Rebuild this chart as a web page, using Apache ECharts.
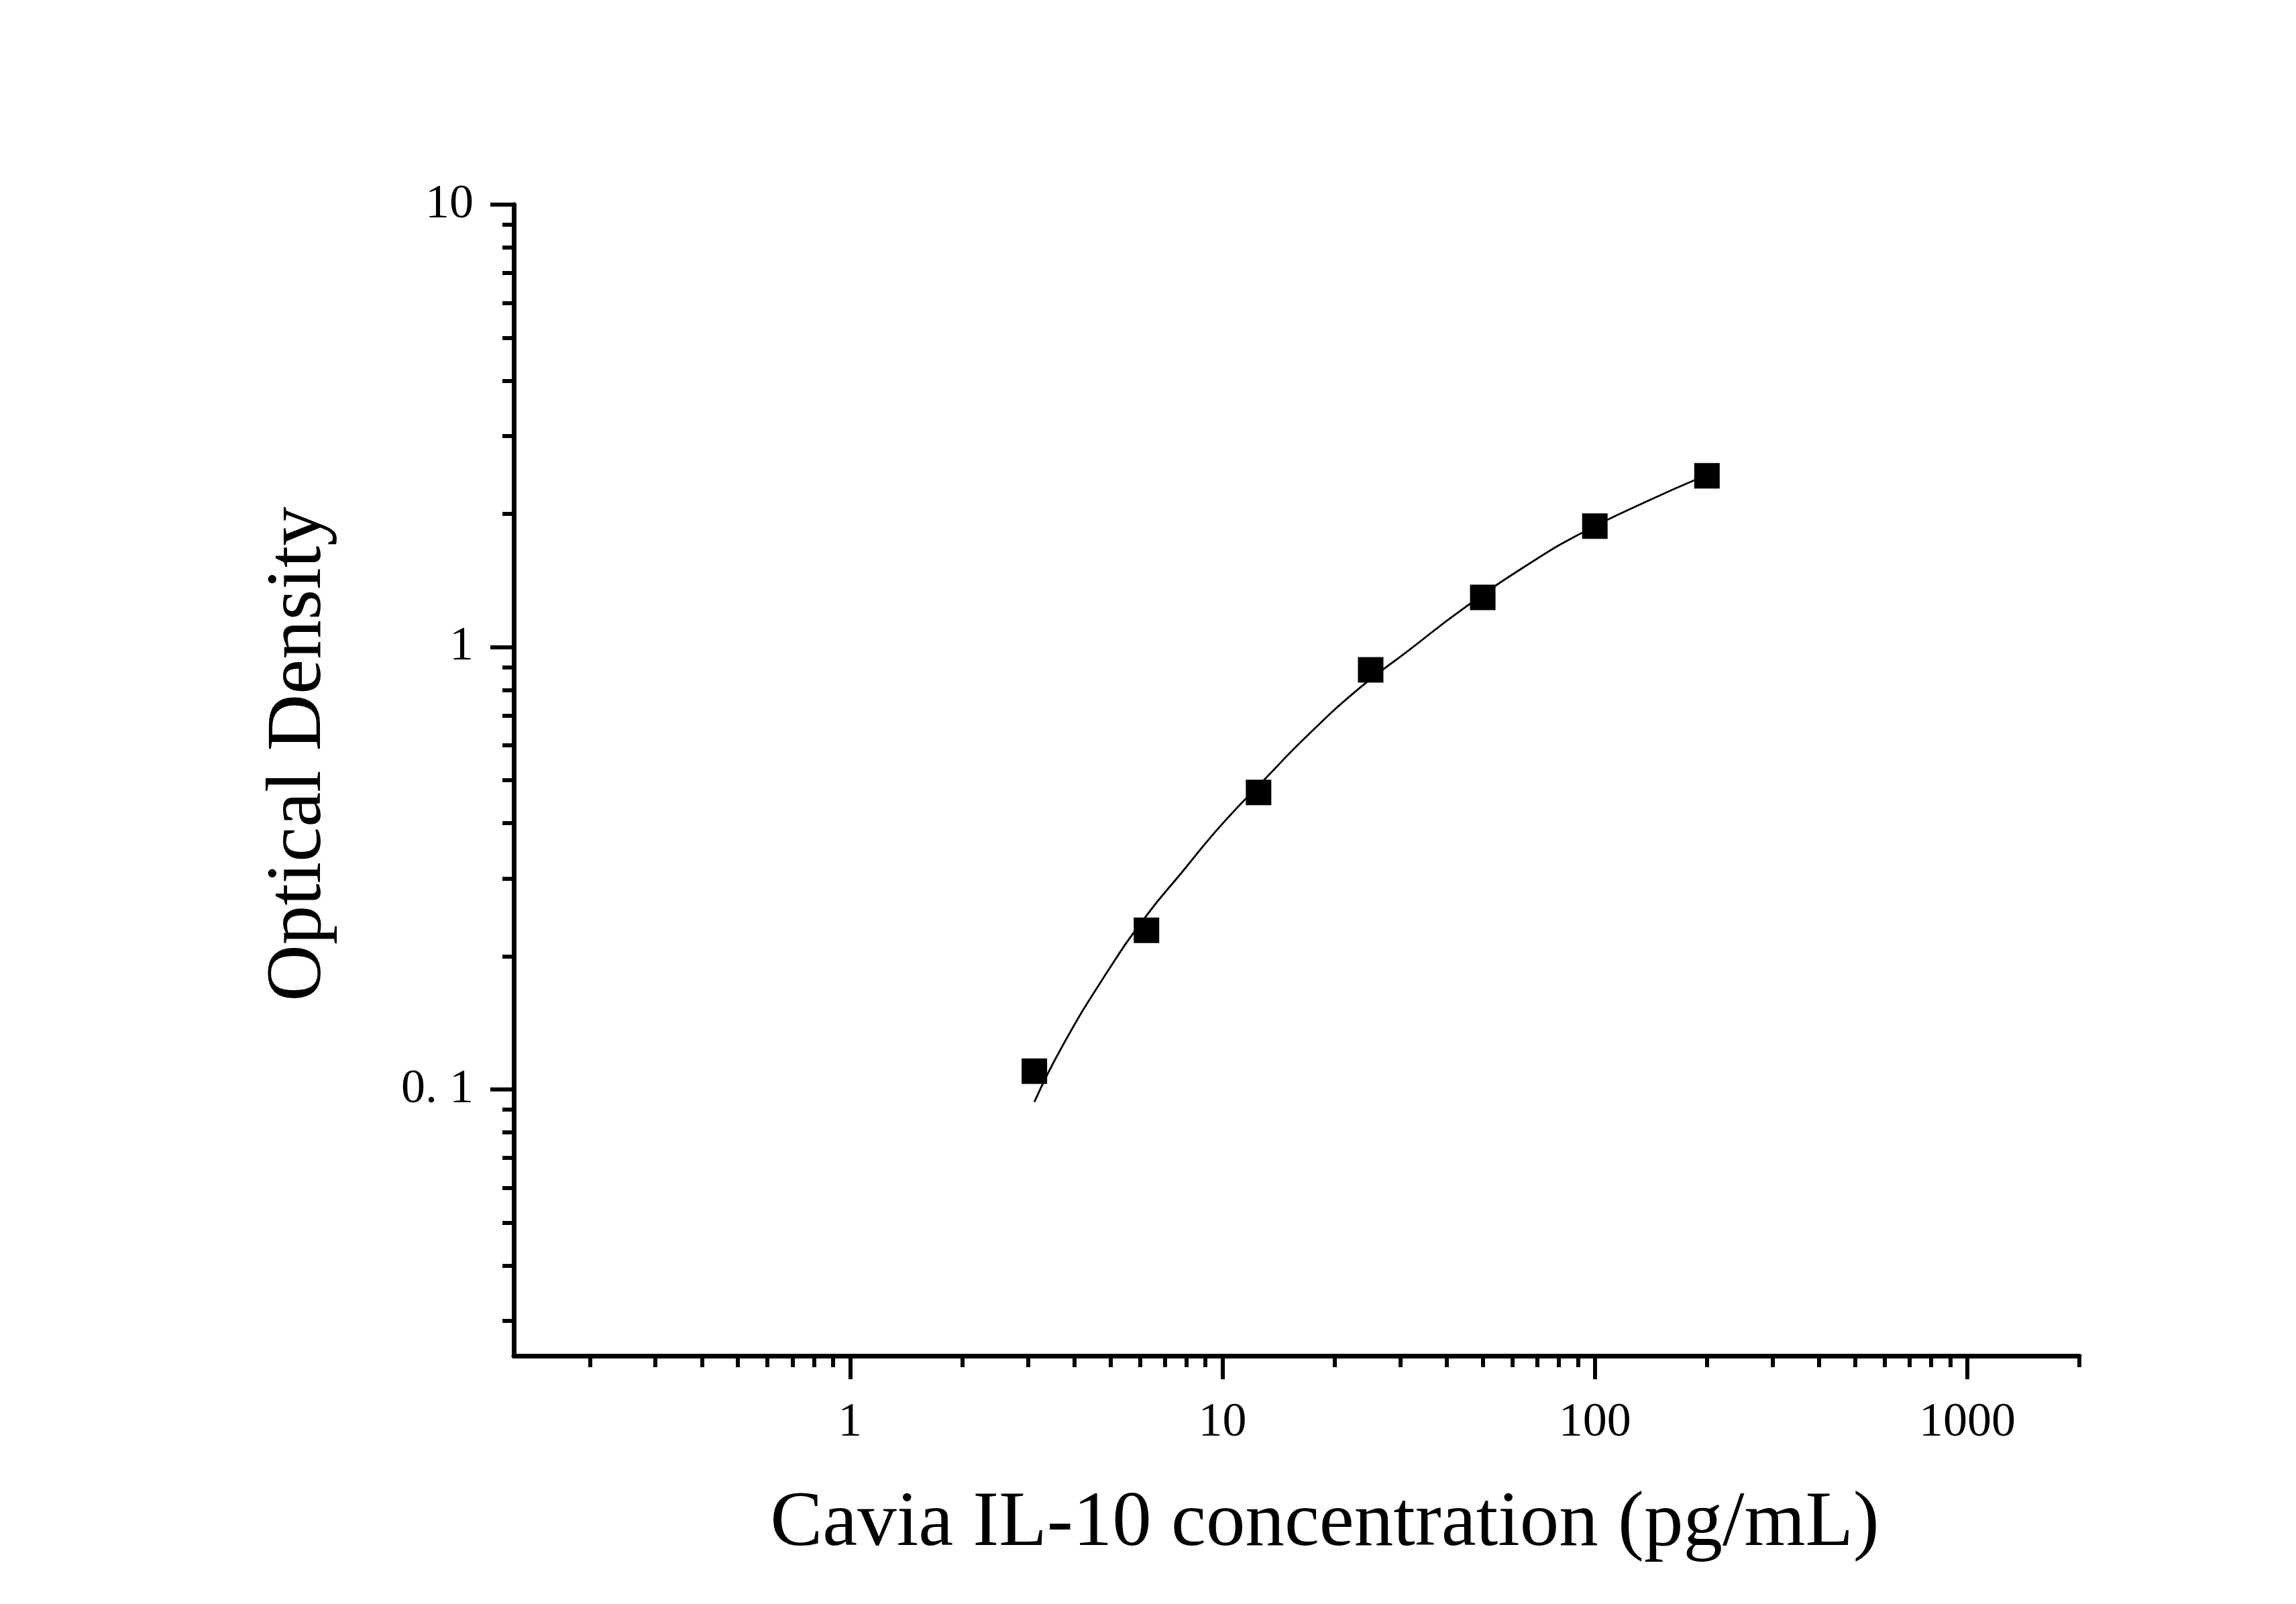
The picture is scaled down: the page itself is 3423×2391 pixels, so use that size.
<!DOCTYPE html>
<html>
<head>
<meta charset="utf-8">
<title>Cavia IL-10 standard curve</title>
<script src="https://cdn.jsdelivr.net/npm/echarts@6/dist/echarts.min.js"></script>
<style>
  html, body { margin: 0; padding: 0; background: #fff; }
  #chart { width: 3423px; height: 2391px; }
</style>
</head>
<body>
<div id="chart"></div>
<script>
// standards: concentration (pg/mL) and measured OD
var concentration = [3.125, 6.25, 12.5, 25, 50, 100, 200];
var opticalDensity = [0.110, 0.229, 0.469, 0.888, 1.295, 1.876, 2.437];

// fitted curve
var curveX = [3.125, 3.73, 4.92, 6.23, 7.77, 9.96, 12.95, 16.85, 23.31, 31.39, 44.36, 68.08, 92.81, 132.2, 200];
var curveY = [0.0937, 0.1260, 0.1851, 0.2463, 0.3091, 0.3972, 0.5012, 0.6290, 0.807, 0.978, 1.2216, 1.5605, 1.8156, 2.100, 2.45];

// axis ticks
var xMajor = [1, 10, 100, 1000];
var xTickLabels = ['1', '10', '100', '1000'];
var xMinor = [0.2, 0.3, 0.4, 0.5, 0.6, 0.7, 0.8, 0.9, 2, 3, 4, 5, 6, 7, 8, 9,
  20, 30, 40, 50, 60, 70, 80, 90, 200, 300, 400, 500, 600, 700, 800, 900, 2000];
var yMajor = [0.1, 1, 10];
var yTickLabels = ['0. 1', '1', '10'];
var yMinor = [0.03, 0.04, 0.05, 0.06, 0.07, 0.08, 0.09, 0.2, 0.3, 0.4, 0.5, 0.6, 0.7, 0.8, 0.9,
  2, 3, 4, 5, 6, 7, 8, 9];

var FONT = '"Liberation Serif", "Times New Roman", serif';

function pickLabel(ticks, labels) {
  return function (v) {
    for (var i = 0; i < ticks.length; i++) {
      if (Math.abs(Math.log10(ticks[i] / v)) < 1e-6) return labels[i];
    }
    return '';
  };
}

function logAxis(min, max, position, major, labels, minor) {
  var common = {
    type: 'log',
    logBase: 10,
    min: min,
    max: max,
    position: position,
    splitLine: { show: false },
    minorSplitLine: { show: false }
  };
  // major ticks + labels + axis line
  var a = Object.assign({}, common, {
    axisLine: { show: true, onZero: false, lineStyle: { color: '#000', width: 7 } },
    axisTick: { show: true, customValues: major, length: 35, lineStyle: { color: '#000', width: 6 } },
    axisLabel: {
      show: true,
      customValues: major,
      formatter: pickLabel(major, labels),
      color: '#000',
      fontFamily: FONT,
      fontSize: 72,
      margin: position === 'bottom' ? 64 : 60
    }
  });
  // minor ticks only
  var b = Object.assign({}, common, {
    axisLine: { show: false, onZero: false },
    axisTick: { show: true, customValues: minor, length: 17, lineStyle: { color: '#000', width: 6 } },
    axisLabel: { show: false }
  });
  return [a, b];
}

var chart = echarts.init(document.getElementById('chart'), null, { renderer: 'canvas' });

var option = {
  backgroundColor: '#fff',
  animation: false,
  grid: {
    left: 766,
    right: 323,
    top: 305,
    bottom: 370,
    outerBoundsMode: 'none'
  },
  xAxis: logAxis(0.125, 2000, 'bottom', xMajor, xTickLabels, xMinor),
  yAxis: logAxis(0.025, 10, 'left', yMajor, yTickLabels, yMinor),
  graphic: [
    {
      type: 'text',
      x: 446,
      y: 1124,
      rotation: Math.PI / 2,
      style: {
        text: 'Optical Density',
        fill: '#000',
        font: '117px ' + FONT,
        textAlign: 'center',
        textVerticalAlign: 'middle'
      }
    },
    {
      type: 'text',
      x: 1975,
      y: 2272,
      style: {
        text: 'Cavia IL-10 concentration (pg/mL)',
        fill: '#000',
        font: '117px ' + FONT,
        textAlign: 'center',
        textVerticalAlign: 'middle'
      }
    }
  ],
  series: [
    {
      name: 'fit',
      type: 'line',
      xAxisIndex: 0,
      yAxisIndex: 0,
      data: curveX.map(function (x, i) { return [x, curveY[i]]; }),
      showSymbol: false,
      smooth: 0.5,
      lineStyle: { color: '#000', width: 2.8 },
      z: 2
    },
    {
      name: 'standards',
      type: 'scatter',
      xAxisIndex: 0,
      yAxisIndex: 0,
      data: concentration.map(function (x, i) { return [x, opticalDensity[i]]; }),
      symbol: 'rect',
      symbolSize: 38,
      itemStyle: { color: '#000', opacity: 1 },
      z: 3
    }
  ]
};

chart.setOption(option);
</script>
</body>
</html>
